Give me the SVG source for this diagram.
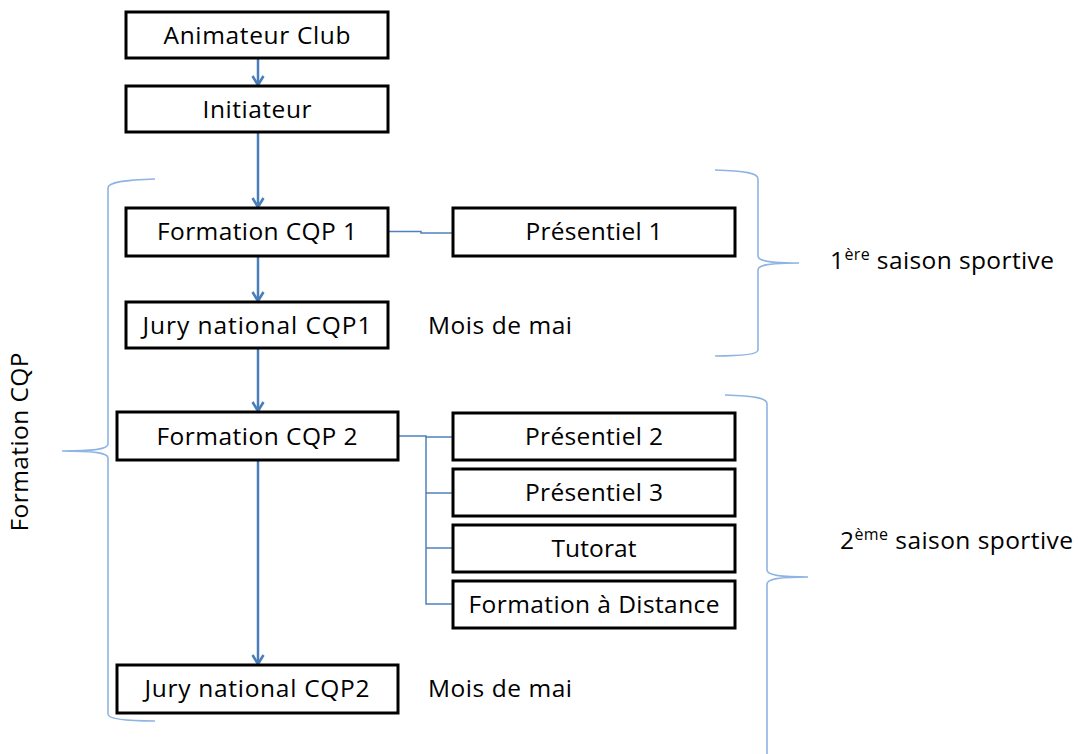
<svg xmlns="http://www.w3.org/2000/svg" width="1078" height="754" viewBox="0 0 1078 754">
  <style>
    .box { fill: #ffffff; stroke: #000000; stroke-width: 3; }
    .t { font-family: "Open Sans", "Liberation Sans", sans-serif; font-size: 24.5px; fill: #000000; }
    .c { text-anchor: middle; }
    .arrow { fill: none; stroke: #4A7EBB; stroke-width: 2.5; marker-end: url(#arr); }
    .link { fill: none; stroke: #4F81BD; stroke-width: 1.5; }
    .brace { fill: none; stroke: #8EB4E3; stroke-width: 1.6; }
  </style>
  <defs>
    <marker id="arr" viewBox="0 0 14 14" refX="12" refY="7" markerWidth="14" markerHeight="14" markerUnits="userSpaceOnUse" orient="auto">
      <path d="M3,1.5 L12,7 L3,12.5" fill="none" stroke="#4A7EBB" stroke-width="2.6"/>
    </marker>
  </defs>
  <rect width="1078" height="754" fill="#ffffff"/>

  <g id="connectors">
    <line class="arrow" x1="258" y1="58" x2="258" y2="85"/>
    <line class="arrow" x1="258" y1="132" x2="258" y2="207"/>
    <line class="arrow" x1="258" y1="256" x2="258" y2="301"/>
    <line class="arrow" x1="258" y1="348" x2="258" y2="411"/>
    <line class="arrow" x1="258" y1="460" x2="258" y2="664"/>
    <polyline class="link" points="388,231.5 421,231.5 421,233 453,233"/>
    <polyline class="link" points="398,436 426,436 426,437 453,437"/>
    <polyline class="link" points="426,436 426,604 453,604"/>
    <line class="link" x1="426" y1="493" x2="453" y2="493"/>
    <line class="link" x1="426" y1="548" x2="453" y2="548"/>
  </g>

  <g id="braces">
    <path class="brace" d="M155,179 C125,180 108,182 108,188 L108,444 C108,449 95,451 62,451 C95,451 108,453 108,458 L108,714 C108,719 125,721 155,721"/>
    <path class="brace" d="M715,170 C745,171 758,173 758,179 L758,256 C758,261 770,263 799,263 C770,263 758,265 758,270 L758,350 C758,354 745,356 715,356"/>
    <path class="brace" d="M725,395 C755,396 767,398 767,404 L767,570 C767,575 780,577 808,577 C780,577 767,579 767,584 L767,756"/>
  </g>

  <g id="n-animateur">
    <rect class="box" x="126" y="12" width="262" height="46"/>
    <text class="t c" x="257" y="44" textLength="187" lengthAdjust="spacing">Animateur Club</text>
  </g>
  <g id="n-initiateur">
    <rect class="box" x="126" y="86" width="262" height="46"/>
    <text class="t c" x="257" y="118" textLength="109" lengthAdjust="spacing">Initiateur</text>
  </g>
  <g id="n-cqp1">
    <rect class="box" x="126" y="208" width="262" height="48"/>
    <text class="t c" x="257" y="240" textLength="200" lengthAdjust="spacing">Formation CQP 1</text>
  </g>
  <g id="n-pres1">
    <rect class="box" x="453" y="208" width="282" height="48"/>
    <text class="t c" x="594" y="240" textLength="137" lengthAdjust="spacing">Présentiel 1</text>
  </g>
  <g id="n-jury1">
    <rect class="box" x="126" y="302" width="262" height="46"/>
    <text class="t c" x="257" y="334" textLength="229" lengthAdjust="spacing">Jury national CQP1</text>
  </g>
  <g id="n-mai1">
    <text class="t" x="428" y="334" textLength="144" lengthAdjust="spacing">Mois de mai</text>
  </g>
  <g id="n-cqp2">
    <rect class="box" x="117" y="412" width="281" height="48"/>
    <text class="t c" x="257" y="445" textLength="201" lengthAdjust="spacing">Formation CQP 2</text>
  </g>
  <g id="n-pres2">
    <rect class="box" x="453" y="413" width="282" height="47"/>
    <text class="t c" x="594" y="445" textLength="138" lengthAdjust="spacing">Présentiel 2</text>
  </g>
  <g id="n-pres3">
    <rect class="box" x="453" y="469" width="282" height="47"/>
    <text class="t c" x="594" y="501" textLength="138" lengthAdjust="spacing">Présentiel 3</text>
  </g>
  <g id="n-tutorat">
    <rect class="box" x="453" y="525" width="282" height="47"/>
    <text class="t c" x="594" y="557" textLength="85" lengthAdjust="spacing">Tutorat</text>
  </g>
  <g id="n-fad">
    <rect class="box" x="453" y="581" width="282" height="47"/>
    <text class="t c" x="594" y="613" textLength="251" lengthAdjust="spacing">Formation à Distance</text>
  </g>
  <g id="n-jury2">
    <rect class="box" x="117" y="665" width="281" height="48"/>
    <text class="t c" x="257" y="697" textLength="225" lengthAdjust="spacing">Jury national CQP2</text>
  </g>
  <g id="n-mai2">
    <text class="t" x="428" y="697" textLength="144" lengthAdjust="spacing">Mois de mai</text>
  </g>
  <g id="n-saison1">
    <text class="t" x="830" y="269" textLength="224" lengthAdjust="spacing">1<tspan font-size="16" dy="-9">ère</tspan><tspan dy="9"> saison sportive</tspan></text>
  </g>
  <g id="n-saison2">
    <text class="t" x="840" y="549" textLength="233" lengthAdjust="spacing">2<tspan font-size="16" dy="-9">ème</tspan><tspan dy="9"> saison sportive</tspan></text>
  </g>
  <g id="n-formation-cqp">
    <text class="t c" transform="translate(28,442) rotate(-90)" textLength="179" lengthAdjust="spacing">Formation CQP</text>
  </g>
</svg>
